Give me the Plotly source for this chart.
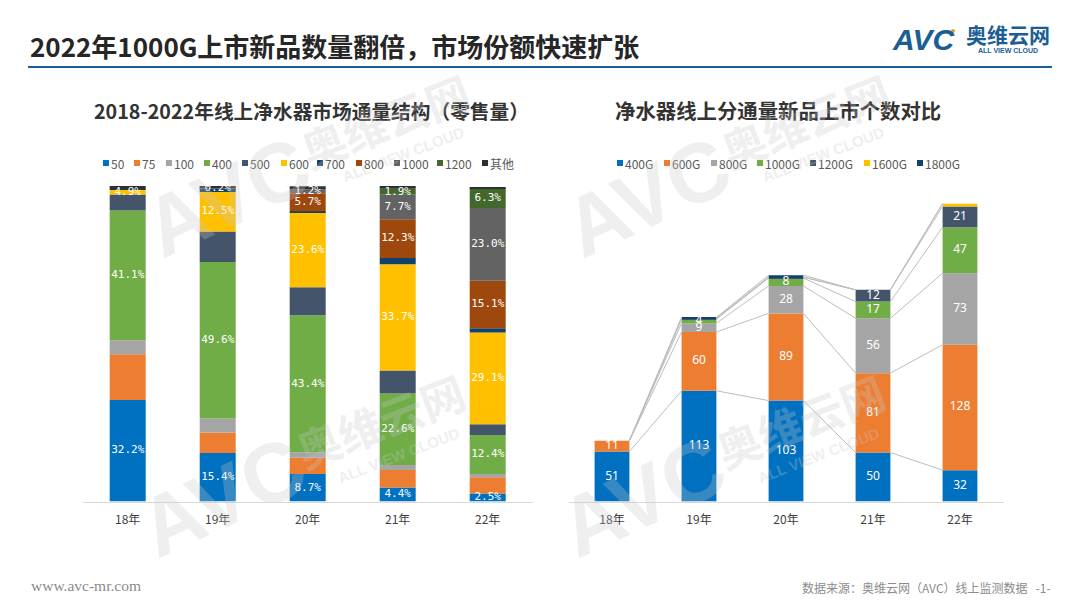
import plotly.graph_objects as go

W, H = 1080, 608

#%%
# Left chart data (share of retail volume, %)
years = ['18年', '19年', '20年', '21年', '22年']
left_names = ['50', '75', '100', '400', '500', '600', '700', '800', '1000', '1200', '其他']
s50 = [32.2, 15.4, 8.7, 4.4, 2.5]
s75 = [14.5, 6.5, 5.2, 5.6, 5.2]
s100 = [4.4, 4.4, 1.7, 1.6, 1.0]
s400 = [41.1, 49.6, 43.4, 22.6, 12.4]
s500 = [5.1, 9.7, 8.9, 7.3, 3.4]
s600 = [1.5, 12.5, 23.6, 33.7, 29.1]
s700 = [0.2, 1.0, 0.5, 2.0, 1.3]
s800 = [0.0, 0.2, 5.7, 12.3, 15.1]
s1000 = [0.0, 0.3, 1.2, 7.7, 23.0]
s1200 = [0.0, 0.0, 0.0, 1.9, 6.3]
s_other = [1.0, 0.4, 1.0, 0.9, 0.2]
left_values = [s50, s75, s100, s400, s500, s600, s700, s800, s1000, s1200, s_other]
left_colors = ['#0070C0', '#ED7D31', '#A5A5A5', '#70AD47', '#44546A', '#FFC000',
               '#10426B', '#9E480E', '#636363', '#43682B', '#2F2F2F']

# Printed labels per series, blank where the chart prints nothing
l50 = ['32.2%', '15.4%', '8.7%', '4.4%', '2.5%']
l400 = ['41.1%', '49.6%', '43.4%', '22.6%', '12.4%']
l600 = ['4.9%', '12.5%', '23.6%', '33.7%', '29.1%']
l800 = ['', '0.2%', '5.7%', '12.3%', '15.1%']
l1000 = ['', '', '1.2%', '7.7%', '23.0%']
l1200 = ['', '', '', '1.9%', '6.3%']
left_labels = {0: l50, 3: l400, 5: l600, 7: l800, 8: l1000, 9: l1200}

#%%
# Right chart data (number of new products)
right_names = ['400G', '600G', '800G', '1000G', '1200G', '1600G', '1800G']
n400 = [51, 113, 103, 50, 32]
n600 = [11, 60, 89, 81, 128]
n800 = [0, 9, 28, 56, 73]
n1000 = [0, 4, 8, 17, 47]
n1200 = [0, 1, 1, 12, 21]
n1600 = [0, 0, 0, 0, 3]
n1800 = [0, 1, 2, 0, 0]
right_values = [n400, n600, n800, n1000, n1200, n1600, n1800]
right_colors = ['#0070C0', '#ED7D31', '#A5A5A5', '#70AD47', '#44546A', '#FFC000', '#10426B']

xs = list(range(len(years)))
BAR_W = 0.4


def px(x):
    return x / W


def py(y):
    return 1 - y / H


#%%
fig = go.Figure()

# Left stacked bars
base = [0] * 5
for i, vals in enumerate(left_values):
    fig.add_trace(go.Bar(x=xs, y=vals, base=base, width=BAR_W, name=left_names[i],
                         marker=dict(color=left_colors[i], line_width=0),
                         xaxis='x', yaxis='y', showlegend=False))
    if i in left_labels:
        mids = [b + v / 2 for b, v in zip(base, vals)]
        fig.add_trace(go.Scatter(x=xs, y=mids, mode='text', text=left_labels[i],
                                 textfont=dict(family='DejaVu Sans Mono', size=11, color='white'),
                                 xaxis='x', yaxis='y', showlegend=False, hoverinfo='skip'))
    base = [b + v for b, v in zip(base, vals)]

# Right stacked bars with series lines joining the segments
base = [0] * 5
for i, vals in enumerate(right_values):
    fig.add_trace(go.Bar(x=xs, y=vals, base=base, width=BAR_W, name=right_names[i],
                         marker=dict(color=right_colors[i], line_width=0),
                         xaxis='x2', yaxis='y2', showlegend=False))
    tops = [b + v for b, v in zip(base, vals)]
    line_x, line_y = [], []
    for k in range(len(xs) - 1):
        line_x += [xs[k] + BAR_W / 2, xs[k + 1] - BAR_W / 2, None]
        line_y += [tops[k], tops[k + 1], None]
    fig.add_trace(go.Scatter(x=line_x, y=line_y, mode='lines',
                             line=dict(color='#BDBDBD', width=1),
                             xaxis='x2', yaxis='y2', showlegend=False, hoverinfo='skip'))
    if i <= 4:
        mids = [b + v / 2 for b, v in zip(base, vals)]
        labels = [str(v) if v >= 4 else '' for v in vals]
        fig.add_trace(go.Scatter(x=xs, y=mids, mode='text', text=labels,
                                 textfont=dict(family='Noto Sans', size=12, color='white'),
                                 xaxis='x2', yaxis='y2', showlegend=False, hoverinfo='skip'))
    base = tops

annotations = []
shapes = []


def add_text(x, y, text, size, color, anchor='left', family='Noto Sans CJK SC', angle=0, opacity=1):
    annotations.append(dict(x=px(x), y=py(y), xref='paper', yref='paper', text=text,
                            showarrow=False, xanchor=anchor, yanchor='middle',
                            font=dict(family=family, size=size, color=color),
                            textangle=angle, opacity=opacity, borderpad=0))


# Hand placed legends, the spacing is tighter than plotly's own legend allows
left_legend_x = [103, 134, 166, 204, 242, 281, 317, 356, 394, 437, 482]
for name, color, x in zip(left_names, left_colors, left_legend_x):
    shapes.append(dict(type='rect', xref='paper', yref='paper', x0=px(x), x1=px(x + 6),
                       y0=py(166), y1=py(160), fillcolor=color, line_width=0))
    add_text(x + 7, 163, name, 12, '#595959')

right_legend_x = [617, 664, 711, 757, 810, 864, 917]
for name, color, x in zip(right_names, right_colors, right_legend_x):
    shapes.append(dict(type='rect', xref='paper', yref='paper', x0=px(x), x1=px(x + 6),
                       y0=py(166), y1=py(160), fillcolor=color, line_width=0))
    add_text(x + 7, 163, name, 12, '#595959')

# Headings
add_text(29, 45, '<b>2022年1000G上市新品数量翻倍，市场份额快速扩张</b>', 26, '#262626')
add_text(311.5, 110, '<b>2018-2022年线上净水器市场通量结构（零售量）</b>', 19.7, '#333333', anchor='center')
add_text(778, 110, '<b>净水器线上分通量新品上市个数对比</b>', 20.4, '#333333', anchor='center')

# Header rule
shapes.append(dict(type='line', xref='paper', yref='paper', x0=px(28), x1=px(1052),
                   y0=py(67), y1=py(67), line=dict(color='#1B5E95', width=2)))

# Logo
add_text(891, 40, '<b><i>AVC</i></b>', 30, '#1B5E95', family='Liberation Sans')
shapes.append(dict(type='circle', xref='paper', yref='paper', x0=px(951), x1=px(955),
                   y0=py(33), y1=py(29), fillcolor='#E8963A', line_width=0))
add_text(965, 34, '<b>奥维云网</b>', 21, '#1B5E95')
add_text(977, 50, '<b>ALL VIEW CLOUD</b>', 7, '#1B5E95', family='Liberation Sans')

# Footer
add_text(30, 585, 'www.avc-mr.com', 15.5, '#8C8C8C', family='Liberation Serif')
add_text(1052, 587, '数据来源：奥维云网（AVC）线上监测数据   -1-', 12, '#8C8C8C', anchor='right')

# Watermarks
for dx, dy in [(0, 0), (420, 0), (5, -300), (425, -300)]:
    add_text(222 + dx, 497 + dy, '<b>AVC</b>', 84, '#C8C8C8', anchor='center',
             family='Liberation Sans', angle=-25, opacity=0.28)
    add_text(380 + dx, 420 + dy, '<b>奥维云网</b>', 44, '#C8C8C8', anchor='center', angle=-21, opacity=0.28)
    add_text(398 + dx, 455 + dy, '<b>ALL VIEW CLOUD</b>', 15, '#C8C8C8', anchor='center',
             family='Liberation Sans', angle=-21, opacity=0.28)

axis_common = dict(tickvals=xs, ticktext=years, range=[-0.5, 4.5], showgrid=False, zeroline=False,
                   showline=True, linecolor='#D9D9D9', linewidth=1,
                   ticks='outside', ticklen=7, tickcolor='rgba(0,0,0,0)',
                   tickfont=dict(family='Noto Sans CJK SC', size=12, color='#404040'))

fig.update_layout(
    width=W,
    height=H,
    margin=dict(l=0, r=0, t=0, b=0),
    paper_bgcolor='white',
    plot_bgcolor='rgba(0,0,0,0)',
    barmode='overlay',
    showlegend=False,
    xaxis=dict(domain=[px(82.7), px(532.7)], anchor='y', **axis_common),
    yaxis=dict(domain=[py(501.5), py(186)], range=[0, 100], visible=False, anchor='x'),
    xaxis2=dict(domain=[px(568.5), px(1003.5)], anchor='y2', **axis_common),
    yaxis2=dict(domain=[py(501.5), py(186)], range=[0, 322], visible=False, anchor='x2'),
    annotations=annotations,
    shapes=shapes,
)

fig.write_html("out.html", config={'displayModeBar': False},
               post_script="document.body.style.margin='0';")
